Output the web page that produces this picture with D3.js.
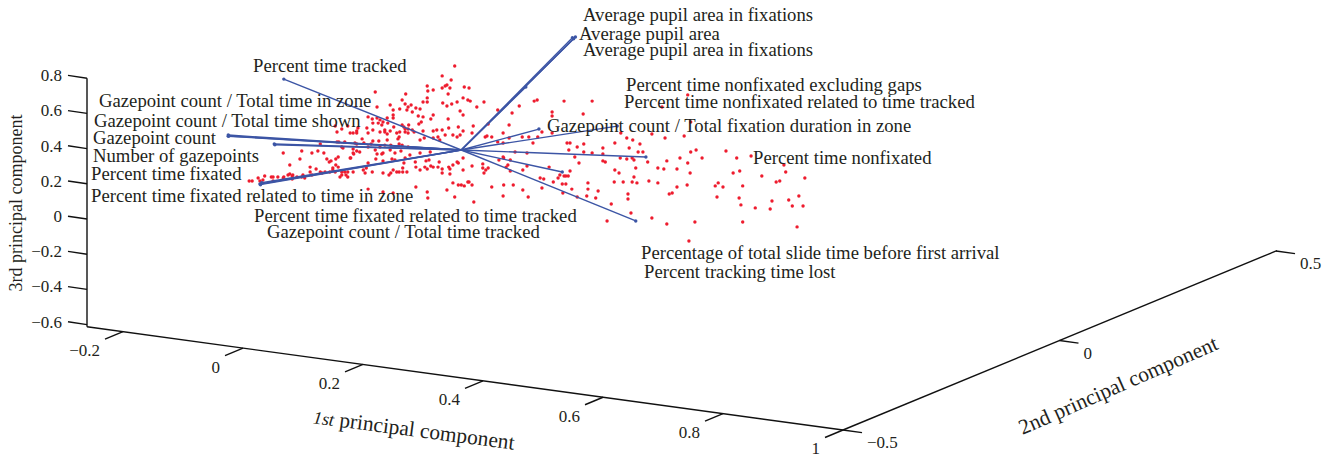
<!DOCTYPE html>
<html lang="en">
<head>
<meta charset="utf-8">
<title>principal components</title>
<script src="https://d3js.org/d3.v7.min.js"></script>
<style>
html, body { margin: 0; padding: 0; background: #fff; }
svg { display: block; }
text { font-family: "Liberation Serif", serif; fill: #231f20; }
</style>
</head>
<body>
<script>
// tick values of the three axes
var pc1Ticks = [-0.2, 0, 0.2, 0.4, 0.6, 0.8, 1];
var pc2Ticks = [-0.5, 0, 0.5];
var pc3Ticks = [0.8, 0.6, 0.4, 0.2, 0, -0.2, -0.4, -0.6];

var pointsPc1 = [
  .012,.017,.027,.030,.035,.038,.049,.052,.052,.060,.069,.070,.077,.080,.084,.085,.084,.092,.100,.102,.105,.114,.117,.124,.131,.134,.139,.147,.152,.156,.164,.167,.174,.177,.177,
  .080,.069,.097,.100,.117,.127,.137,.142,.146,.149,.157,.161,.157,.161,.182,.186,.114,.131,.159,.162,.167,.186,.192,.189,.156,.159,.167,.177,.181,.192,.194,.152,
  .356,.335,.350,.343,.340,.335,.348,.310,.311,.320,.372,.380,.345,.223,.274,.268,.310,.226,.248,.273,.278,.283,.303,.310,.336,.343,.351,.360,.370,.378,.365,
  .253,.264,.276,.291,.298,.285,.253,.243,.253,.211,.218,.226,.295,.303,.320,.316,.345,.279,.296,.300,.231,.236,.244,.219,.234,.228,.254,.268,.271,.273,.278,.285,.288,.303,.320,.326,.335,.346,.362,.209,.192,.219,.231,.239,.248,.259,
  .186,.211,.239,.243,.264,.273,.278,.263,.261,.243,.229,.219,.201,.204,.172,.192,.216,.211,.231,.239,.249,.263,.268,.278,.298,.305,.320,.328,.340,.353,.360,.365,.331,.169,
  .197,.187,.181,.223,.226,.236,.234,.248,.256,.266,.281,.298,.315,.211,.224,.236,.251,.256,.273,.271,.290,.291,.298,.306,.310,.308,.313,.316,.320,.330,.328,.335,.335,.346,.348,.353,.362,.360,.348,
  .203,.206,.208,.218,.236,.246,.249,.253,.259,.263,.269,.269,.276,.186,.172,.167,.211,.236,.253,.291,.310,.311,.343,.356,.353,.362,.367,.378,
  .382,.405,.393,.370,.428,.464,.489,.494,.539,.586,.452,.412,.447,.519,.519,.571,.387,.370,.385,.407,.410,.418,.437,.428,.437,.447,.469,.480,.487,.495,.502,.519,
  .634,.644,.654,.686,.708,.740,.751,.703,.746,.666,.624,.572,.549,.544,.561,.547,.572,.586,.604,.604,.648,.663,.671,.679,.557,.564,.604,.608,.633,.644,.653,.656,.659,.624,.631,.656,.623,.638,.653,.661,.681,
  .696,.706,.711,.696,.728,.733,.746,.750,.751,.760,.770,.728,.745,.715,.720,.810,.828,.852,.907,.910,.942,.870,.894,.900,.833,.822,.797,.792,.805,.838,.795,.832,.835,.859,.884,.887,.915,.921,.932,.939,.929,.838,.758,.711,.686,.748,
  .611,.651,.618,.646,.646,.592,.577,.596,.579,.579,.561,.552,.542,.536,.537,.502,.479,.470,.454,.438,.418,.437,.388,.385,.380,.372,.412,.408,.403,.403,.405,.385,.370,
  .430,.437,.438,.449,.445,.442,.449,.470,.477,.514,.499,.505,.521,.529,.532,.539,.542,.546,.549,.477,.457,.370
];
var pointsPc3 = [
  .216,.216,.233,.216,.222,.244,.239,.239,.216,.239,.233,.239,.25,.256,.244,.25,.227,.239,.239,.25,.233,.267,.25,.284,.267,.261,.267,.267,.278,.267,.239,.25,.25,.239,.267,
  .307,.375,.341,.386,.375,.386,.375,.341,.324,.330,.341,.352,.307,.295,.347,.375,.295,.426,.438,.438,.409,.398,.386,.432,.528,.494,.511,.528,.489,.489,.517,.290,
  .869,.813,.790,.761,.756,.744,.744,.756,.727,.733,.75,.744,.710,.722,.710,.676,.688,.636,.648,.653,.636,.648,.665,.665,.659,.642,.653,.665,.688,.676,.614,
  .619,.625,.619,.631,.625,.608,.591,.574,.574,.580,.568,.574,.585,.580,.591,.568,.568,.534,.540,.551,.563,.551,.545,.545,.534,.545,.523,.534,.523,.511,.511,.506,.494,.5,.5,.506,.506,.517,.523,.517,.5,.506,.494,.506,.5,.489,
  .489,.489,.494,.483,.494,.494,.489,.466,.455,.449,.443,.443,.455,.432,.438,.426,.426,.409,.409,.420,.420,.426,.420,.409,.449,.460,.460,.466,.477,.477,.466,.477,.449,.403,
  .381,.369,.347,.392,.369,.375,.369,.392,.375,.386,.364,.375,.381,.318,.341,.330,.341,.335,.347,.318,.324,.295,.278,.295,.284,.330,.335,.301,.295,.324,.295,.284,.261,.295,.284,.307,.318,.324,.256,
  .278,.261,.290,.267,.261,.25,.261,.278,.267,.267,.267,.290,.267,.267,.267,.267,.170,.153,.148,.182,.153,.119,.165,.125,.205,.193,.193,.210,
  .670,.665,.636,.591,.619,.642,.670,.676,.670,.670,.602,.540,.534,.608,.585,.597,.528,.5,.489,.466,.472,.466,.489,.438,.432,.460,.466,.466,.432,.466,.494,.489,
  .489,.460,.449,.483,.460,.472,.551,.636,.705,.426,.432,.426,.432,.432,.409,.392,.381,.375,.403,.369,.403,.381,.381,.324,.352,.318,.330,.324,.347,.341,.347,.335,.290,.278,.261,.239,.210,.210,.210,.205,.216,
  .205,.284,.330,.290,.284,.347,.318,.261,.381,.392,.347,.182,.193,.142,.148,.386,.347,.358,.307,.267,.233,.244,.210,.216,.273,.261,.205,.188,.182,.188,.125,.119,.080,.063,.057,.102,.108,.074,.131,.074,-.045,-.017,-.017,-.028,.006,-.125,
  -.011,.034,.085,.114,.142,.119,.131,.159,.170,.205,.125,.170,.199,.199,.148,.176,.125,.165,.193,.193,.182,.131,.097,.193,.210,.188,.290,.278,.313,.290,.261,.301,.278,
  .335,.352,.347,.335,.307,.295,.273,.278,.301,.295,.233,.227,.210,.233,.25,.244,.244,.244,.273,.375,.381,.347
];

// loading vectors, all starting at the common origin
var originPc1 = .367;
var originPc3 = .392;
var vectorPc1 = [.070, -.023, -.023, -.022, .054, .055, .030, .033, .031, .558, .553, .555, .475, .497, .628, .676, .536, .659];
var vectorPc3 = [.795, .477, .470, .472, .426, .422, .199, .206, .195, 1.034, 1.030, 1.024, .75, .511, .528, .352, .267, -.011];

var vectorLabels = [
  "Average pupil area in fixations",
  "Average pupil area",
  "Average pupil area in fixations",
  "Percent time tracked",
  "Percent time nonfixated excluding gaps",
  "Percent time nonfixated related to time tracked",
  "Gazepoint count / Total time in zone",
  "Gazepoint count / Total time shown",
  "Gazepoint count / Total fixation duration in zone",
  "Gazepoint count",
  "Number of gazepoints",
  "Percent time nonfixated",
  "Percent time fixated",
  "Percent time fixated related to time in zone",
  "Percent time fixated related to time tracked",
  "Gazepoint count / Total time tracked",
  "Percentage of total slide time before first arrival",
  "Percent tracking time lost"
];

// hand placement of the labels, same order as vectorLabels
var labelLeft = [583, 579, 583, 253, 626, 624, 99, 94, 547, 93, 93, 753, 91, 91, 254, 267, 641, 644];
var labelBase = [21, 40, 56, 72, 91, 108, 107, 127, 132, 144, 162, 164, 180, 202, 222, 238, 259, 278];

var width = 1334, height = 458;

var svg = d3.select("body").append("svg")
    .attr("width", width)
    .attr("height", height);

// oblique box: each axis needs an x and a y scale
var pc1X = d3.scaleLinear().domain([-0.2, 1]).range([123, 843]);
var pc1Y = d3.scaleLinear().domain([-0.2, 1]).range([331.7, 430]);
var pc2X = d3.scaleLinear().domain([-0.5, 0.5]).range([843, 1276]);
var pc2Y = d3.scaleLinear().domain([-0.5, 0.5]).range([430, 251]);
var pc3Y = d3.scaleLinear().domain([-0.6, 0.8]).range([324.6, 78.2]);

// the marks are flat readings
var markX = d3.scaleLinear().domain([-0.2, 1]).range([122.5, 839.5]);
var markY = pc3Y;

var minus = function(v) { return String(v).replace("-", "\u2212"); };

var axes = svg.append("g")
    .attr("stroke", "#111")
    .attr("stroke-width", 1.4)
    .attr("fill", "none");

var cornerX = pc1X(-0.26);
var cornerY = pc1Y(-0.26);

axes.append("line").attr("x1", cornerX).attr("y1", pc3Y(0.8)).attr("x2", cornerX).attr("y2", cornerY);
axes.append("line").attr("x1", cornerX).attr("y1", cornerY).attr("x2", pc1X(1)).attr("y2", pc1Y(1));
axes.append("line").attr("x1", pc2X(-0.5)).attr("y1", pc2Y(-0.5)).attr("x2", pc2X(0.502)).attr("y2", pc2Y(0.502));

// the ticks are slanted like the other axes of the box
axes.selectAll(".t1").data(pc1Ticks).enter().append("line")
    .attr("x1", function(d) { return pc1X(d); })
    .attr("y1", function(d) { return pc1Y(d); })
    .attr("x2", function(d) { return pc1X(d) - 18; })
    .attr("y2", function(d) { return pc1Y(d) + 7.5; });
axes.selectAll(".t2").data(pc2Ticks).enter().append("line")
    .attr("x1", function(d) { return pc2X(d); })
    .attr("y1", function(d) { return pc2Y(d); })
    .attr("x2", function(d) { return pc2X(d) + 19; })
    .attr("y2", function(d) { return pc2Y(d) + 2.6; });
axes.selectAll(".t3").data(pc3Ticks).enter().append("line")
    .attr("x1", cornerX)
    .attr("y1", function(d) { return pc3Y(d); })
    .attr("x2", cornerX - 19)
    .attr("y2", function(d) { return pc3Y(d) - 2.8; });

svg.append("g").selectAll("circle")
    .data(pointsPc1)
    .enter().append("circle")
    .attr("cx", function(d) { return markX(d); })
    .attr("cy", function(d, i) { return markY(pointsPc3[i]); })
    .attr("r", 1.7)
    .attr("fill", "#ee1c2e");

var vectors = svg.append("g");

vectors.selectAll("line")
    .data(vectorPc1)
    .enter().append("line")
    .attr("x1", markX(originPc1))
    .attr("y1", markY(originPc3))
    .attr("x2", function(d) { return markX(d); })
    .attr("y2", function(d, i) { return markY(vectorPc3[i]); })
    .attr("stroke", "#3c55a5")
    .attr("stroke-width", 1.4);

vectors.selectAll("circle")
    .data(vectorPc1)
    .enter().append("circle")
    .attr("cx", function(d) { return markX(d); })
    .attr("cy", function(d, i) { return markY(vectorPc3[i]); })
    .attr("r", 1.7)
    .attr("fill", "#3c55a5");

svg.append("g").selectAll("text")
    .data(vectorLabels)
    .enter().append("text")
    .attr("x", function(d, i) { return labelLeft[i]; })
    .attr("y", function(d, i) { return labelBase[i]; })
    .attr("font-size", 18.7)
    .text(function(d) { return d; });

// tick labels
var tickText = svg.append("g").attr("font-size", 17);

tickText.selectAll(".l3").data(pc3Ticks).enter().append("text")
    .attr("x", 62)
    .attr("y", function(d) { return pc3Y(d) - 3; })
    .attr("dy", ".35em")
    .attr("text-anchor", "end")
    .text(minus);
tickText.selectAll(".l1").data(pc1Ticks).enter().append("text")
    .attr("x", function(d) { return pc1X(d) - 23; })
    .attr("y", function(d) { return pc1Y(d) + 18.5; })
    .attr("dy", ".35em")
    .attr("text-anchor", "end")
    .text(minus);
tickText.selectAll(".l2").data(pc2Ticks).enter().append("text")
    .attr("x", function(d) { return pc2X(d) + 24; })
    .attr("y", function(d) { return pc2Y(d) + 12.5; })
    .attr("dy", ".35em")
    .text(minus);

// axis titles
var title1 = svg.append("text")
    .attr("transform", "translate(414,429) rotate(7.5)")
    .attr("text-anchor", "middle")
    .attr("dy", ".35em")
    .attr("font-size", 21.4);
title1.append("tspan").attr("font-style", "italic").attr("font-size", 18).text("1st");
title1.append("tspan").text(" principal component");

svg.append("text")
    .attr("transform", "translate(1118,385) rotate(-23.7)")
    .attr("text-anchor", "middle")
    .attr("dy", ".35em")
    .attr("font-size", 21.5)
    .text("2nd principal component");

svg.append("text")
    .attr("transform", "translate(16,203) rotate(-90)")
    .attr("text-anchor", "middle")
    .attr("dy", ".35em")
    .attr("font-size", 18)
    .text("3rd principal component");
</script>
</body>
</html>
